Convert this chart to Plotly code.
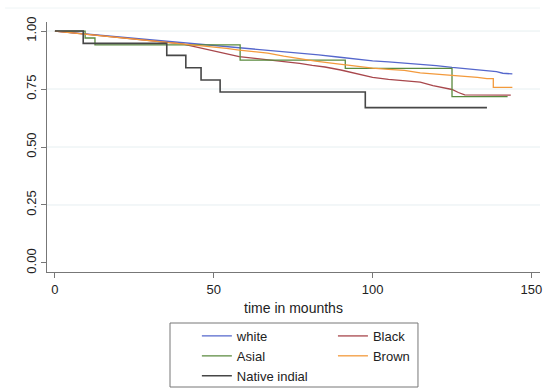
import plotly.graph_objects as go

# ---- data ----
white_t = [0, 5, 10, 15, 20, 25, 30, 35, 40, 45, 50, 54, 58, 63, 67, 72, 77, 83, 89, 95, 100, 105, 110, 115, 120, 125, 130, 135, 139, 141, 144]
white_s = [1.0, 0.994, 0.987, 0.981, 0.975, 0.97, 0.964, 0.958, 0.952, 0.946, 0.94, 0.935, 0.93, 0.924, 0.918, 0.912, 0.906, 0.897, 0.888, 0.879, 0.871, 0.867, 0.862, 0.858, 0.851, 0.843, 0.837, 0.83, 0.825, 0.818, 0.815]

black_t = [0, 5, 10, 15, 20, 25, 30, 35, 40, 45, 50, 54, 58, 63, 68, 72, 77, 81, 85, 90, 95, 100, 105, 110, 115, 119, 122, 125, 127, 129, 143.5]
black_s = [1.0, 0.993, 0.986, 0.979, 0.972, 0.965, 0.958, 0.952, 0.945, 0.93, 0.915, 0.902, 0.89, 0.882, 0.875, 0.868, 0.861, 0.852, 0.845, 0.832, 0.815, 0.80, 0.792, 0.785, 0.78, 0.765, 0.755, 0.748, 0.735, 0.725, 0.724]

asian_t = [0, 9.5, 12.6, 58.3, 91.4, 125, 142.5]
asian_s = [1.0, 0.97, 0.94, 0.875, 0.839, 0.717, 0.717]

brown_t = [0, 5, 10, 15, 20, 25, 30, 35, 40, 45, 50, 54, 58, 63, 67, 72, 77, 82, 87, 92, 96, 100, 105, 110, 115, 120, 125, 130, 133, 136, 138, 138, 144]
brown_s = [1.0, 0.993, 0.986, 0.979, 0.972, 0.966, 0.96, 0.954, 0.947, 0.94, 0.932, 0.925, 0.918, 0.91, 0.905, 0.892, 0.88, 0.87, 0.862, 0.853, 0.845, 0.84, 0.835, 0.83, 0.82, 0.815, 0.81, 0.805, 0.80, 0.795, 0.795, 0.757, 0.757]

native_t = [0, 8.9, 35.2, 41.2, 46, 52, 97.7, 136]
native_s = [1.0, 0.947, 0.895, 0.842, 0.789, 0.737, 0.67, 0.67]

y_ticks = [0, 0.25, 0.5, 0.75, 1.0]
y_labels = ["0.00", "0.25", "0.50", "0.75", "1.00"]
x_ticks = [0, 50, 100, 150]

FONT = "Liberation Sans, Arial, sans-serif"

fig = go.Figure()
series = [
    ("white", white_t, white_s, "#5567cc", "legend", "linear"),
    ("Black", black_t, black_s, "#a8474c", "legend2", "linear"),
    ("Asial", asian_t, asian_s, "#5a8a3e", "legend", "hv"),
    ("Brown", brown_t, brown_s, "#f39a3c", "legend2", "linear"),
    ("Native indial", native_t, native_s, "#474747", "legend", "hv"),
]
for name, t, s, col, lg, shp in series:
    fig.add_trace(go.Scatter(
        x=t, y=s, mode="lines", name=name, legend=lg,
        line=dict(color=col, width=1.6 if name == "Native indial" else 1.3, shape=shp),
    ))

shapes = []
for v in y_ticks[1:]:
    shapes.append(dict(type="line", xref="paper", yref="y", x0=0, x1=1, y0=v, y1=v,
                       line=dict(color="#e6eff1", width=1), layer="below"))
# faint outer border line at the top
shapes.append(dict(type="line", xref="paper", yref="paper", x0=-0.085, x1=1, y0=1.056, y1=1.056,
                   line=dict(color="#eef4f5", width=1)))
# legend frame
shapes.append(dict(type="rect", xref="paper", yref="paper", x0=0.2495, x1=0.7525, y0=-0.46, y1=-0.204,
                   line=dict(color="#777777", width=1)))

LEG_Y = 0.177
fig.update_layout(
    width=550, height=390,
    margin=dict(l=47, r=10, t=22, b=118, autoexpand=False),
    paper_bgcolor="white", plot_bgcolor="white",
    font=dict(family=FONT, size=13, color="#222222"),
    shapes=shapes,
    legend=dict(x=0.304, y=LEG_Y, yref="container", xanchor="left", yanchor="top", orientation="v",
                font=dict(size=13, color="#222222"), bgcolor="rgba(0,0,0,0)", tracegroupgap=0),
    legend2=dict(x=0.580, y=LEG_Y, yref="container", xanchor="left", yanchor="top", orientation="v",
                 font=dict(size=13, color="#222222"), bgcolor="rgba(0,0,0,0)", tracegroupgap=0),
    showlegend=True,
)
fig.update_xaxes(
    range=[-2.5, 152.7], tickvals=x_ticks, ticks="outside", ticklen=5, tickcolor="#777777",
    showline=True, linecolor="#777777", linewidth=1, showgrid=False, zeroline=False,
    tickfont=dict(size=13, color="#222222"), automargin=False,
    title=dict(text="time in mounths", font=dict(size=14, color="#222222"), standoff=7),
)
fig.update_yaxes(
    range=[-0.039, 1.039], tickvals=y_ticks, ticktext=y_labels, tickangle=-90,
    ticks="outside", ticklen=5, tickcolor="#777777",
    showline=True, linecolor="#777777", linewidth=1, showgrid=False, zeroline=False,
    tickfont=dict(size=13, color="#222222"), automargin=False,
)

fig.write_html("out.html")
